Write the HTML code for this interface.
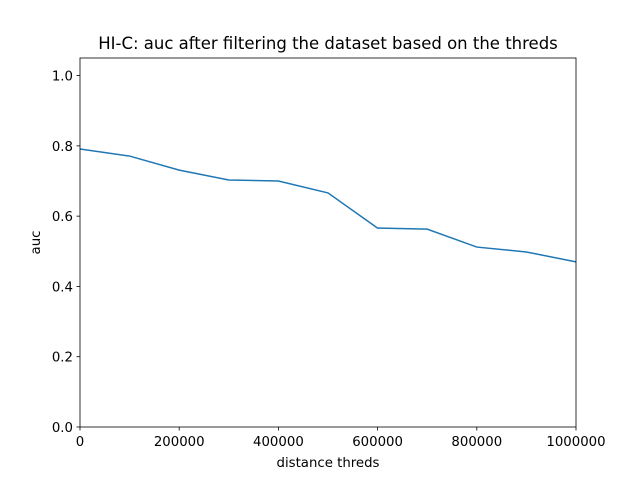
<!DOCTYPE html>
<html><head><meta charset="utf-8"><style>
body{margin:0;background:#fff;}
svg text{font-family:"DejaVu Sans","Liberation Sans",sans-serif;font-size:13.3px;fill:#000;}
</style></head><body>
<svg id="chart" width="640" height="480"></svg>
<script>
const xValues=[0,100000,200000,300000,400000,500000,600000,700000,800000,900000,1000000];
const aucValues=[0.791,0.771,0.731,0.703,0.700,0.666,0.566,0.563,0.512,0.498,0.470];
const xTicks=[0,200000,400000,600000,800000,1000000];
const xTickLabels=["0","200000","400000","600000","800000","1000000"];
const yTicks=[0,0.2,0.4,0.6,0.8,1.0];
const yTickLabels=["0.0","0.2","0.4","0.6","0.8","1.0"];

const L=80,R=576,T=58,B=427;
const sx=v=>L+(v-0)/(1000000)*(R-L);
const sy=v=>B-(v-0)/1.05*(B-T);
const svg=document.getElementById('chart');
const NS='http://www.w3.org/2000/svg';
function mk(tag,attrs,txt){const e=document.createElementNS(NS,tag);for(const k in attrs)e.setAttribute(k,attrs[k]);if(txt!==undefined)e.textContent=txt;svg.appendChild(e);return e;}

let pts=xValues.map((x,i)=>sx(x)+','+sy(aucValues[i])).join(' ');
let line=mk('polyline',{points:pts,fill:'none',stroke:'#1f77b4','stroke-width':1.5});



let frame=mk('rect',{x:L,y:T,width:R-L,height:B-T,fill:'none',stroke:'#000','stroke-width':0.8});



xTicks.forEach((t,i)=>{
  const x=sx(t);
  mk('line',{x1:x,x2:x,y1:B,y2:B+3.5,stroke:'#000','stroke-width':0.8});
  const tx=mk('text',{x:x,y:B+19,'text-anchor':'middle'},xTickLabels[i]);
  
  
});
yTicks.forEach((t,i)=>{
  const y=sy(t);
  mk('line',{x1:L-3.5,x2:L,y1:y,y2:y,stroke:'#000','stroke-width':0.8});
  const tx=mk('text',{x:L-7,y:y+5,'text-anchor':'end'},yTickLabels[i]);
  
  
});
let xt=mk('text',{x:(L+R)/2,y:B+40,'text-anchor':'middle'},'distance threds');


let yt=mk('text',{x:0,y:0,'text-anchor':'middle',transform:`translate(40,${(T+B)/2}) rotate(-90)`},'auc');


let ti=mk('text',{x:(L+R)/2,y:T-9,'text-anchor':'middle',style:'font-size:16.5px'},'HI-C: auc after filtering the dataset based on the threds');


</script>
</body></html>
